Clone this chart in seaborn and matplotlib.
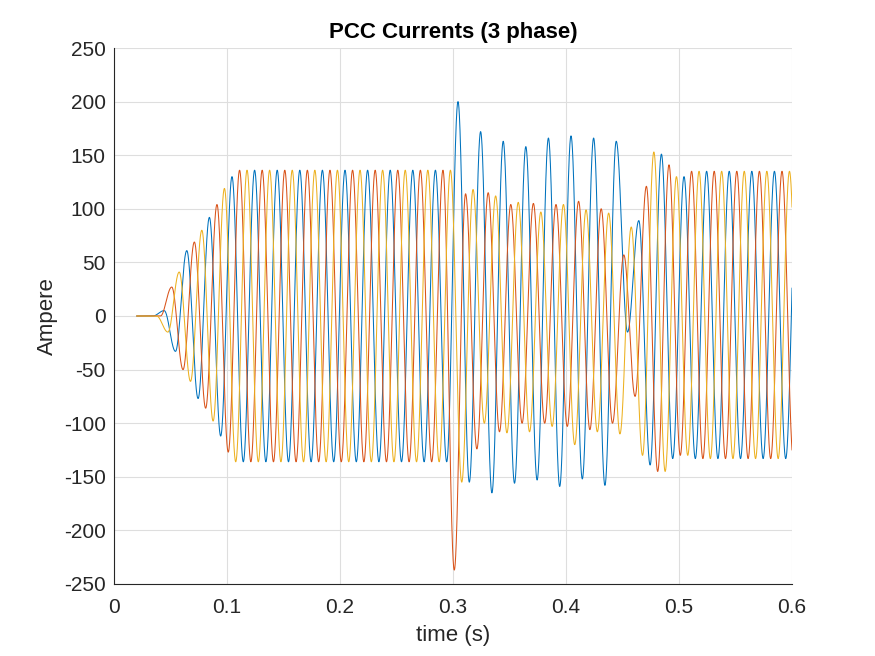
import numpy as np
import pandas as pd
import matplotlib
matplotlib.use("Agg")
import matplotlib.pyplot as plt
import seaborn as sns

# --- data: peak / trough value of each half cycle (50 Hz) ---
half_period = 0.01
t_start, t_end = 0.02, 0.6

# first extremum time of each phase (then one extremum every 10 ms)
first_extremum = {'Phase A': 0.0144, 'Phase B': 0.0111, 'Phase C': 0.0177}

phase_a_start = [0, 0, 0, 5, -33, 61, -77, 92, -112, 130]
phase_a_steady = [-136, 136] * 9 + [-136]
phase_a_fault = [200, -155, 172, -165, 163, -156, 158, -153, 166, -159, 168,
                 -152, 166, -158, 163, -15, 89, -139, 151, -133, 130]
phase_a_tail = [-133, 135] * 5

phase_b_start = [0, 0, 0, 0, 27, -50, 69, -86, 104, -127]
phase_b_steady = [136, -136] * 9 + [136]
phase_b_fault = [-237, 114, -124, 115, -108, 104, -100, 105, -100, 104, -103,
                 107, -106, 100, -100, 57, -75, 121, -145, 141, -130]
phase_b_tail = [135, -133] * 5

phase_c_start = [0, 0, 0, -15, 41, -61, 80, -98, 119, -136]
phase_c_steady = [136, -136] * 9 + [136]
phase_c_fault = [-155, 118, -100, 112, -109, 106, -108, 97, -103, 104, -120,
                 99, -108, 96, -110, 83, -130, 153, -145, 130, -130]
phase_c_tail = [135, -133] * 5

extrema = {
    'Phase A': phase_a_start + phase_a_steady + phase_a_fault + phase_a_tail,
    'Phase B': phase_b_start + phase_b_steady + phase_b_fault + phase_b_tail,
    'Phase C': phase_c_start + phase_c_steady + phase_c_fault + phase_c_tail,
}

colors = {'Phase A': '#0072BD', 'Phase B': '#D95319', 'Phase C': '#EDB120'}


def waveform(t, t0, values):
    # half-cosine segment between consecutive extrema
    v = np.asarray(values, dtype=float)
    pos = (t - t0) / half_period
    i = np.clip(np.floor(pos).astype(int), 0, len(v) - 2)
    s = np.clip(pos - i, 0, 1)
    a, b = v[i], v[i + 1]
    return a + (b - a) * (1 - np.cos(np.pi * s)) / 2


t = np.arange(t_start, t_end + 1e-9, 2e-5)
frames = []
for name, vals in extrema.items():
    frames.append(pd.DataFrame({'time': t,
                                'current': waveform(t, first_extremum[name], vals),
                                'phase': name}))
df = pd.concat(frames, ignore_index=True)

# --- plot ---
sns.set_style('white')
plt.rcParams['font.family'] = ['Liberation Sans', 'DejaVu Sans']
plt.rcParams['axes.unicode_minus'] = False

fig = plt.figure(figsize=(8.75, 6.56), dpi=100)
ax = fig.add_axes([0.1303, 0.1098, 0.7749, 0.8170])

sns.lineplot(data=df, x='time', y='current', hue='phase', palette=colors,
             estimator=None, sort=False, linewidth=0.75, legend=False, ax=ax)

ax.set_xlim(0, 0.6)
ax.set_ylim(-250, 250)
ax.set_xticks(np.arange(0, 0.61, 0.1))
ax.set_xticklabels(['0', '0.1', '0.2', '0.3', '0.4', '0.5', '0.6'])
ax.set_yticks(np.arange(-250, 251, 50))

ax.grid(True, color='#dedede', linewidth=0.8)
ax.set_axisbelow(True)
for side in ['top', 'right']:
    ax.spines[side].set_visible(False)
for side in ['left', 'bottom']:
    ax.spines[side].set_color('#262626')
    ax.spines[side].set_linewidth(0.8)

ax.tick_params(direction='in', length=5, width=0.8, color='#262626',
               labelcolor='#262626', labelsize=15)
ax.tick_params(axis='x', pad=10)
ax.tick_params(axis='y', pad=6)

ax.set_xlabel('time (s)', fontsize=16, color='#262626', labelpad=6)
ax.set_ylabel('Ampere', fontsize=16, color='#262626', labelpad=4)
ax.set_title('PCC Currents (3 phase)', fontsize=16, fontweight='bold',
             color='black', pad=7)

fig.savefig('out.png', dpi=100)
